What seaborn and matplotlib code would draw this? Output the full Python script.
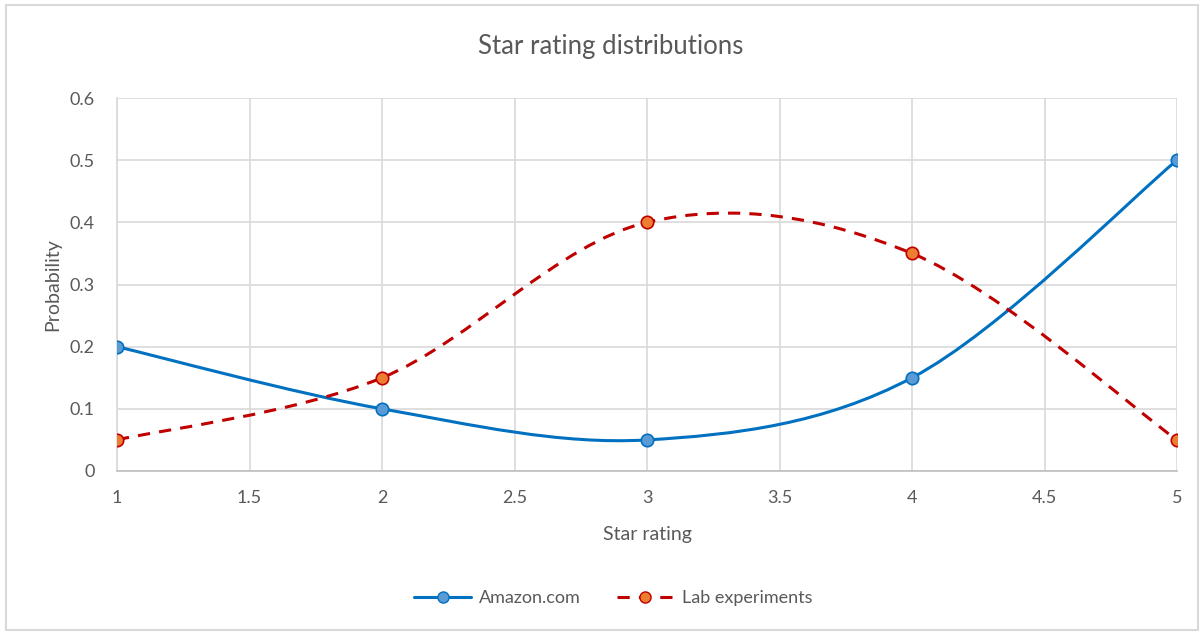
import numpy as np
import matplotlib
matplotlib.use("Agg")
import matplotlib.pyplot as plt
import seaborn as sns
from matplotlib.path import Path
from matplotlib.patches import PathPatch, Rectangle
from matplotlib.lines import Line2D

stars = [1, 2, 3, 4, 5]
amazon = [0.2, 0.1, 0.05, 0.15, 0.5]
lab = [0.05, 0.15, 0.4, 0.35, 0.05]
x_ticks = [1, 1.5, 2, 2.5, 3, 3.5, 4, 4.5, 5]
x_labels = ["1", "1.5", "2", "2.5", "3", "3.5", "4", "4.5", "5"]
y_ticks = [0, 0.1, 0.2, 0.3, 0.4, 0.5, 0.6]
y_labels = ["0", "0.1", "0.2", "0.3", "0.4", "0.5", "0.6"]

sns.set_theme(style="white")
plt.rcParams["font.family"] = ["Lato", "DejaVu Sans"]

txt = "#595959"
grid_c = "#d9d9d9"


def smooth_path(xs, ys):
    # Excel-like smoothed line: cubic Bezier segments through the points
    pts = np.column_stack([xs, ys]).astype(float)
    n = len(pts)
    verts = [pts[0]]
    codes = [Path.MOVETO]
    for i in range(n - 1):
        p0 = pts[i - 1] if i > 0 else pts[i]
        p1 = pts[i]
        p2 = pts[i + 1]
        p3 = pts[i + 2] if i + 2 < n else pts[i + 1]
        c1 = p1 + (p2 - p0) / 6
        c2 = p2 - (p3 - p1) / 6
        verts += [c1, c2, p2]
        codes += [Path.CURVE4] * 3
    return Path(verts, codes)


fig = plt.figure(figsize=(12.04, 6.34), dpi=100)
ax = fig.add_axes([0.0972, 0.2571, 0.8804, 0.5883])

ax.add_patch(PathPatch(smooth_path(stars, amazon), fill=False,
                       edgecolor="#0070c0", lw=2.2, zorder=3))
ax.add_patch(PathPatch(smooth_path(stars, lab), fill=False,
                       edgecolor="#c00000", lw=2.2, linestyle=(0, (4, 3)), zorder=3))

sns.scatterplot(x=stars, y=amazon, ax=ax, color="#5b9bd5", edgecolor="#0070c0",
                linewidth=1.2, s=80, zorder=4)
sns.scatterplot(x=stars, y=lab, ax=ax, color="#ed7d31", edgecolor="#c00000",
                linewidth=1.2, s=80, zorder=4)

ax.set_xlim(1, 5)
ax.set_ylim(0, 0.6)
ax.set_xticks(x_ticks)
ax.set_xticklabels(x_labels)
ax.set_yticks(y_ticks)
ax.set_yticklabels(y_labels)
ax.grid(True, color=grid_c, lw=1.2)
ax.set_axisbelow(True)
for side in ["top", "right"]:
    ax.spines[side].set_visible(False)
ax.spines["left"].set_color(grid_c)
ax.spines["bottom"].set_color("#bfbfbf")
ax.spines["left"].set_linewidth(1.2)
ax.spines["bottom"].set_linewidth(1.2)
ax.tick_params(axis="both", colors=txt, labelsize=13, length=0, pad=14)
ax.tick_params(axis="y", pad=16)

ax.set_xlabel("Star rating", fontsize=14, color=txt, labelpad=14)
ax.set_ylabel("Probability", fontsize=14, color=txt, labelpad=6)
fig.text(0.5075, 0.927, "Star rating distributions", ha="center", va="center",
         fontsize=18.5, color=txt)

handles = [
    Line2D([], [], color="#0070c0", lw=2.2, marker="o", markersize=8,
           markerfacecolor="#5b9bd5", markeredgecolor="#0070c0"),
    Line2D([], [], color="#c00000", lw=2.2, linestyle=(0, (4, 3)), marker="o",
           markersize=8, markerfacecolor="#ed7d31", markeredgecolor="#c00000"),
]
fig.legend(handles, ["Amazon.com", "Lab experiments"], loc="center",
           bbox_to_anchor=(0.509, 0.057), ncol=2, frameon=False, fontsize=13,
           labelcolor=txt, handlelength=3.2, columnspacing=2.0, handletextpad=0.4)

fig.patches.append(Rectangle((0.005, 0.006), 0.99, 0.986, transform=fig.transFigure,
                             fill=False, edgecolor="#d9d9d9", lw=1.5))

fig.savefig("out.png", dpi=100)
